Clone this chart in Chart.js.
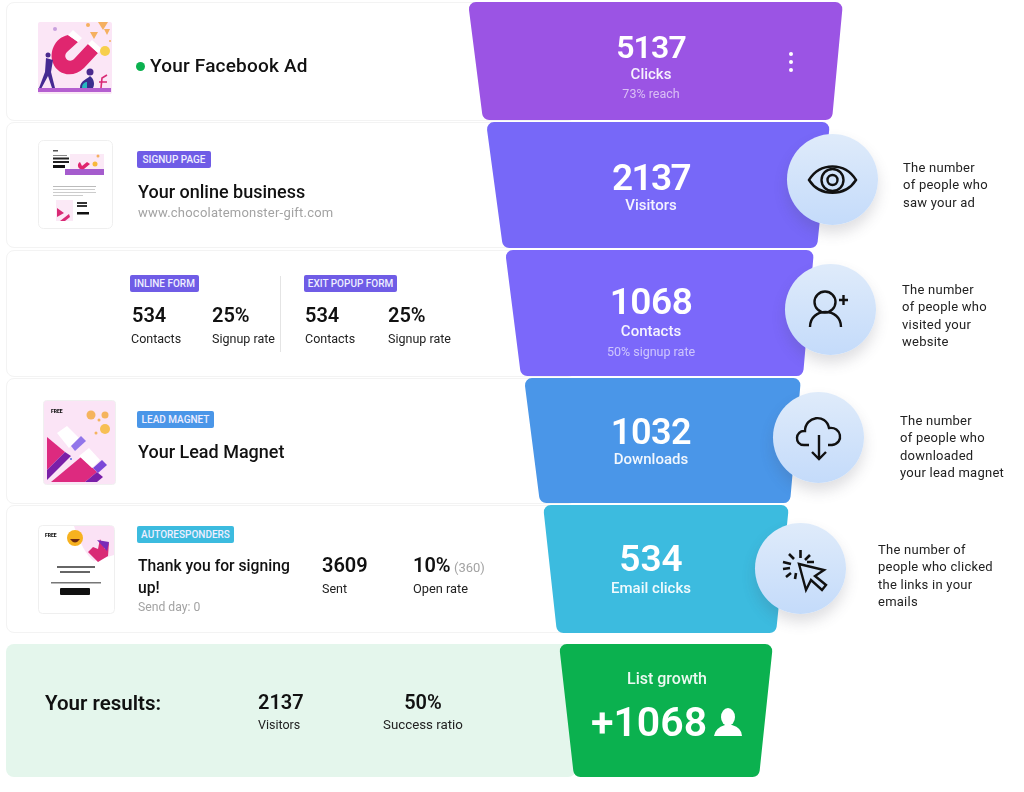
<!DOCTYPE html>
<html>
<head>
<meta charset="utf-8">
<title>Funnel</title>
<script src="https://cdn.jsdelivr.net/npm/chart.js@4"></script>
<style>
    html, body { margin: 0; padding: 0; background: #fff; }
    body { width: 1024px; height: 792px; position: relative; overflow: hidden; font-family: Roboto, sans-serif; color: #111; }
    canvas { position: absolute; left: 0; top: 0; z-index: 1; }
    .card { position: absolute; left: 6px; width: 570px; background: #fff; border: 1px solid #f3f3f3; border-radius: 8px; box-sizing: border-box; }
    .results { background: #e4f6ec; border: 0; }
    .t { position: absolute; transform: translateY(-50%); white-space: nowrap; z-index: 3; }
    .title { font-size: 18px; font-weight: 500; color: #111; }
    .num { font-size: 20px; font-weight: 600; color: #111; }
    .lab { font-size: 12.5px; color: #222; }
    .grey { font-size: 12.5px; color: #a3a3a3; }
    .hint { font-size: 13px; color: #222; letter-spacing: 0.25px; }
    .badge { position: absolute; height: 17px; line-height: 17px; border-radius: 2px; color: #eef; font-size: 10px; font-weight: 500; text-align: center; z-index: 3; }
    .circle { position: absolute; width: 91px; height: 91px; border-radius: 50%; background: linear-gradient(#dfebfa, #c4dbfa); box-shadow: 0 8px 14px rgba(70, 70, 90, 0.18); z-index: 2; }
    .circle svg { position: absolute; left: 0; top: 0; }
    .thumb { position: absolute; z-index: 3; }
</style>
</head>
<body>

<!-- thumbnails -->
<svg class="thumb" style="left:38px;top:22px" width="74" height="72" viewBox="0 0 74 72">
    <rect width="74" height="72" rx="2" fill="#fbe6f6"/>
    <path d="M30 13 C16 16 11 31 15 41 C20 54 36 56 46 46 L60 31 L50 22 L36 37 C31 42 24 35 29 30 L40 20 Z" fill="#e0266f"/>
    <path d="M30 13 L40 20 L44 16 L35 8 Z M50 22 L60 31 L64 27 L54 18 Z" fill="#fff"/>
    <circle cx="10" cy="33" r="2.5" fill="#4b2a8e"/>
    <path d="M8 36 L15 38 L13 50 L17 66 L14 66 L10 54 L3 67 L1 66 L7 50 Z" fill="#452a92"/>
    <circle cx="52" cy="50" r="3.5" fill="#4b2a8e"/>
    <path d="M42 66 C42 58 50 57 52 54 C56 57 57 62 55 66 Z" fill="#3a2d8e"/>
    <path d="M44 66 C44 60 49 60 49 60 L49 66 Z" fill="#25b8c0"/>
    <path d="M63 66 L64 56 L69 53 M61 60 L69 60" stroke="#d92a75" stroke-width="1.6" fill="none"/>
    <rect x="0" y="66" width="73" height="4" fill="#b45fd0"/>
    <circle cx="67" cy="29" r="5" fill="#f7cf4d"/>
    <path d="M60 0 L70 0 L65 8 Z M52 10 L60 10 L56 17 Z M66 7 L72 7 L69 13 Z" fill="#f5b060"/>
    <circle cx="50" cy="3" r="2" fill="#f5b060"/><circle cx="72" cy="19" r="1" fill="#f5b060"/>
    <circle cx="17" cy="7" r="2" fill="#c7a0dd"/>
</svg>
<svg class="thumb" style="left:38px;top:140px" width="75" height="89" viewBox="0 0 75 89">
    <rect x="0.5" y="0.5" width="74" height="88" rx="5" fill="#fff" stroke="#efefef"/>
    <rect x="15" y="10" width="5" height="1.5" fill="#555"/>
    <rect x="15" y="15" width="14" height="1" fill="#888"/>
    <rect x="15" y="17.5" width="16" height="2" fill="#222"/><rect x="15" y="21" width="16" height="2" fill="#222"/>
    <rect x="15" y="25" width="12" height="3" fill="#111"/>
    <rect x="32" y="14" width="34" height="20" fill="#fbe9f6"/>
    <rect x="27" y="29" width="39" height="6" fill="#a55ccd"/>
    <path d="M42 22 C38 24 40 31 46 29 L52 24 L49 22 L44 26 Z" fill="#e0266f"/>
    <circle cx="57" cy="24" r="2.5" fill="#f7b93c"/><circle cx="60" cy="16" r="1.5" fill="#f5b060"/>
    <rect x="15" y="46" width="43" height="1" fill="#bbb"/><rect x="15" y="49" width="42" height="1" fill="#ccc"/><rect x="15" y="52" width="43" height="1" fill="#ccc"/><rect x="15" y="55" width="30" height="1" fill="#ccc"/>
    <rect x="18" y="60" width="17" height="21" fill="#fbe9f6"/>
    <path d="M19 68 L26 73 L19 77 Z M22 81 L31 74 L32 77 L27 81 Z" fill="#d92a75"/>
    <rect x="39" y="62" width="10" height="2" fill="#333"/><rect x="39" y="65" width="10" height="2" fill="#333"/>
    <rect x="39" y="72" width="12" height="2.5" fill="#111"/>
</svg>
<svg class="thumb" style="left:43px;top:400px" width="73" height="85" viewBox="0 0 73 85">
    <rect x="0.5" y="0.5" width="72" height="84" rx="3" fill="#fbe4f6" stroke="#f0f0f0"/>
    <text x="8" y="13" font-family="Roboto" font-size="5" font-weight="900" fill="#111">FREE</text>
    <circle cx="48" cy="15" r="4.5" fill="#f5b45e"/><circle cx="56" cy="20" r="1.5" fill="#f5b45e"/><circle cx="62" cy="15" r="3.5" fill="#f5b45e"/>
    <circle cx="62" cy="29" r="5" fill="#f7bf55"/><circle cx="53" cy="33" r="1.5" fill="#f5b45e"/>
    <path d="M4 37 L22 52 L4 70 Z" fill="#dd2a7f"/>
    <path d="M4 70 L22 52 L28 56 L4 80 Z" fill="#7a1fa8"/>
    <path d="M14 33 L24 26 L36 38 L26 48 Z" fill="#fff"/>
    <path d="M28 46 L38 36 L43 41 L32 51 Z" fill="#9276ea"/>
    <path d="M8 82 L38 57 L54 72 L42 82 Z" fill="#dd2a7f"/>
    <path d="M42 82 L54 72 L60 77 L54 82 Z" fill="#7a1fa8"/>
    <path d="M36 56 L46 48 L57 60 L49 68 Z" fill="#fff"/>
    <path d="M50 68 L59 60 L64 65 L55 73 Z" fill="#7b48d8"/>
    <circle cx="28" cy="59" r="1" fill="#5b6be0"/>
</svg>
<svg class="thumb" style="left:38px;top:525px" width="77" height="89" viewBox="0 0 77 89">
    <rect x="0.5" y="0.5" width="76" height="88" rx="4" fill="#fff" stroke="#efefef"/>
    <path d="M36 1 L73 1 Q76 1 76 4 L76 30 L56 36 C48 30 42 18 36 1 Z" fill="#fbe2f5"/>
    <circle cx="37" cy="13" r="8" fill="#f7b21f"/>
    <path d="M32 14 Q37 21 42 14 Z" fill="#6d2a12"/>
    <text x="7" y="12" font-family="Roboto" font-size="5" font-weight="900" fill="#111">FREE</text>
    <path d="M50 27 L60 37 L70 31 L71 17 L67 24 L62 14 L60 24 L55 22 Z" fill="#d92a75"/>
    <path d="M59 15 L69 26 L71 17 Z" fill="#7a2bb8"/>
    <rect x="19" y="41" width="38" height="2" fill="#666"/><rect x="22" y="46" width="30" height="2" fill="#666"/>
    <rect x="13" y="57" width="50" height="1.5" fill="#777"/>
    <rect x="22" y="63" width="30" height="7" rx="1" fill="#111"/>
</svg>

<!-- icons -->
<div class="circle" style="left:787px;top:134px">
    <svg width="91" height="91" viewBox="0 0 91 91" fill="none" stroke="#111" stroke-width="2.4">
        <path d="M22 46 C33 28 58 28 69 46 C58 63 33 63 22 46 Z"/><circle cx="45.5" cy="46" r="11"/><circle cx="45.5" cy="46" r="5"/>
    </svg>
</div>
<div class="circle" style="left:785px;top:264px">
    <svg width="91" height="91" viewBox="0 0 91 91" fill="none" stroke="#111" stroke-width="2.4">
        <circle cx="40" cy="38" r="10.5"/><path d="M25 63 C25 43 56 43 56 63"/><path d="M54 36 H63 M58.5 31 V41"/>
    </svg>
</div>
<div class="circle" style="left:773px;top:392px">
    <svg width="91" height="91" viewBox="0 0 91 91" fill="none" stroke="#111" stroke-width="2.4">
        <path d="M36 53 H31 C21 53 22 38 32 39 C32 24 53 21 56 36 C68 34 72 51 59 53 H55"/><path d="M46 43 V67 M39 60 L46 67 L53 60"/>
    </svg>
</div>
<div class="circle" style="left:755px;top:523px">
    <svg width="91" height="91" viewBox="0 0 91 91" fill="none" stroke="#111">
        <path stroke-width="2.4" d="M44 41 L51 67 L56 57 L67 67 L71 62 L60 53 L69 47 Z"/>
        <path stroke-width="2.6" d="M28 39 L36 41 M28 46 L35 45 M31 54 L36 50 M40 56 L41 50 M34 31 L39 36 M45.5 27 L45.5 35 M55 32 L50 37 M52 39 L59 39"/>
    </svg>
</div>

<script>
// funnel rows, top to bottom
const funnelValues = ['5137', '2137', '1068', '1032', '534', '+1068'];
const funnelLabels = ['Clicks', 'Visitors', 'Contacts', 'Downloads', 'Email clicks', 'List growth'];
const funnelNotes = ['73% reach', '', '50% signup rate', '', '', ''];
const funnelColors = ['#9b54e4', '#7768f8', '#7b68fa', '#4a96e8', '#3cbbdf', '#0bb14f'];

// shape of each funnel step
const stepTop = [2, 122, 250, 378, 505, 644];
const stepBottom = [120, 248, 376, 503, 633, 777];
const topLeft = [468, 486, 505, 524, 543, 559];
const topRight = [843, 830, 814, 801, 789, 773];
const bottomLeft = [483, 503, 521, 540, 557, 574];
const bottomRight = [832, 817, 803, 790, 776, 759];

// left hand cards
const cardTop = [2, 122, 250, 378, 505];
const cardBottom = [121, 248, 377, 504, 633];

const formNames = ['INLINE FORM', 'EXIT POPUP FORM'];
const formContacts = ['534', '534'];
const formRates = ['25%', '25%'];
const emailStats = ['3609', '10%', '(360)'];
const resultStats = ['2137', '50%'];

const hints = [
    ['The number', 'of people who', 'saw your ad'],
    ['The number', 'of people who', 'visited your', 'website'],
    ['The number', 'of people who', 'downloaded', 'your lead magnet'],
    ['The number of', 'people who clicked', 'the links in your', 'emails']
];

function put(text, x, y, cls, extra) {
    var el = document.createElement('div');
    el.className = 't ' + cls;
    el.textContent = text;
    el.style.left = x + 'px';
    el.style.top = y + 'px';
    if (extra) { el.style.cssText += extra; }
    document.body.appendChild(el);
}

function badge(text, x, y, w, color) {
    var el = document.createElement('div');
    el.className = 'badge';
    el.textContent = text;
    el.style.cssText = 'left:' + x + 'px;top:' + y + 'px;width:' + w + 'px;background:' + color;
    document.body.appendChild(el);
}

function card(top, bottom, cls) {
    var el = document.createElement('div');
    el.className = 'card ' + cls;
    el.style.top = top + 'px';
    el.style.height = (bottom - top) + 'px';
    document.body.appendChild(el);
}

cardTop.forEach(function (t, i) { card(t, cardBottom[i], ''); });
card(644, 777, 'results');

/* row 1 */
put('Your Facebook Ad', 150, 65, 'title', 'font-size:19px;letter-spacing:0.2px');
var dot = document.createElement('div');
dot.style.cssText = 'position:absolute;left:136px;top:62px;width:9px;height:9px;border-radius:50%;background:#0bb14f;z-index:3';
document.body.appendChild(dot);

/* row 2 */
badge('SIGNUP PAGE', 137, 151, 74, '#6f5ce6');
put('Your online business', 138, 191, 'title');
put('www.chocolatemonster-gift.com', 138, 212, 'grey', 'font-size:13px;letter-spacing:0.22px');

/* row 3 */
badge(formNames[0], 130, 275, 69, '#6f5ce6');
badge(formNames[1], 304, 275, 93, '#6f5ce6');
put(formContacts[0], 132, 315, 'num');
put('Contacts', 131, 338, 'lab');
put(formRates[0], 212, 315, 'num');
put('Signup rate', 212, 338, 'lab');
put(formContacts[1], 305, 315, 'num');
put('Contacts', 305, 338, 'lab');
put(formRates[1], 388, 315, 'num');
put('Signup rate', 388, 338, 'lab');
var divider = document.createElement('div');
divider.style.cssText = 'position:absolute;left:280px;top:276px;width:1px;height:76px;background:#e4e4e4;z-index:3';
document.body.appendChild(divider);

/* row 4 */
badge('LEAD MAGNET', 137, 411, 77, '#4a96e8');
put('Your Lead Magnet', 138, 451, 'title');

/* row 5 */
badge('AUTORESPONDERS', 137, 526, 97, '#3cbbdf');
put('Thank you for signing', 138, 565, 'title', 'font-size:15.7px');
put('up!', 138, 587, 'title', 'font-size:15.7px');
put('Send day: 0', 138, 607, 'grey', 'font-size:12.2px');
put(emailStats[0], 322, 565, 'num');
put('Sent', 322, 588, 'lab');
put(emailStats[1], 413, 565, 'num');
put(emailStats[2], 454, 567, 'grey', 'font-size:13px');
put('Open rate', 413, 588, 'lab', 'font-size:12.8px');

/* results */
put('Your results:', 45, 703, 'title', 'font-size:20.5px;font-weight:600');
put(resultStats[0], 258, 702, 'num');
put('Visitors', 258, 724, 'lab');
put(resultStats[1], 423, 702, 'num', 'transform:translate(-50%,-50%)');
put('Success ratio', 423, 724, 'lab', 'font-size:13.3px;transform:translate(-50%,-50%)');

/* hints on the right */
const hintX = [903, 902, 900, 878];
const hintY = [167, 289, 420, 549];
hints.forEach(function (lines, i) {
    lines.forEach(function (line, j) {
        put(line, hintX[i], hintY[i] + j * 17.4, 'hint');
    });
});

/* trapezoid with rounded corners */
function roundedPoly(ctx, pts, r) {
    var last = pts[pts.length - 1], first = pts[0];
    ctx.beginPath();
    ctx.moveTo((last[0] + first[0]) / 2, (last[1] + first[1]) / 2);
    pts.forEach(function (p, i) {
        var next = pts[(i + 1) % pts.length];
        ctx.arcTo(p[0], p[1], next[0], next[1], r);
    });
    ctx.closePath();
}

const valueSize = [32, 37, 37, 36, 37, 41];
const valueSpacing = ['-0.9px', '-1.6px', '-0.5px', '-0.5px', '0px', '0px'];
const labelSize = [15, 15, 15, 15, 15, 16];
const valueY = [50, 181, 305, 435, 562, 726];
const labelY = [75, 206, 332, 460, 589, 680];
const noteY = [95, 0, 353, 0, 0, 0];

const funnelShape = {
    id: 'funnelShape',
    beforeDatasetDraw: function (chart, args) {
        var ctx = chart.ctx;
        var sx = chart.scales.x, sy = chart.scales.y;
        chart.getDatasetMeta(args.index).data.forEach(function (bar, i) {
            var yTop = sy.getPixelForValue(stepTop[i]);
            var yBottom = sy.getPixelForValue(stepBottom[i]);
            ctx.save();
            ctx.fillStyle = funnelColors[i];
            roundedPoly(ctx, [
                [bar.base, yTop],
                [bar.x, yTop],
                [sx.getPixelForValue(bottomRight[i]), yBottom],
                [sx.getPixelForValue(bottomLeft[i]), yBottom]
            ], 7);
            ctx.fill();
            ctx.restore();
        });
        return false;
    },
    afterDatasetsDraw: function (chart) {
        var ctx = chart.ctx;
        ctx.save();
        ctx.textAlign = 'center';
        ctx.textBaseline = 'middle';
        ctx.fillStyle = '#fff';
        funnelValues.forEach(function (v, i) {
            ctx.font = '600 ' + valueSize[i] + 'px Roboto';
            ctx.letterSpacing = valueSpacing[i];
            ctx.fillText(v, i === 5 ? 649 : 651, valueY[i]);
            ctx.letterSpacing = '0px';
            ctx.font = '500 ' + labelSize[i] + 'px Roboto';
            ctx.fillStyle = 'rgba(255,255,255,0.92)';
            ctx.fillText(funnelLabels[i], i === 5 ? 667 : 651, labelY[i]);
            if (funnelNotes[i]) {
                ctx.font = '400 12.5px Roboto';
                ctx.fillStyle = 'rgba(255,255,255,0.62)';
                ctx.fillText(funnelNotes[i], 651, noteY[i]);
            }
            ctx.fillStyle = '#fff';
        });
        /* menu dots on the first step */
        [54, 62, 70].forEach(function (y) {
            ctx.beginPath();
            ctx.arc(791, y, 2, 0, Math.PI * 2);
            ctx.fill();
        });
        /* person after +1068 */
        ctx.beginPath();
        ctx.ellipse(728, 717, 7, 9, 0, 0, Math.PI * 2);
        ctx.fill();
        ctx.beginPath();
        ctx.moveTo(714, 736);
        ctx.quadraticCurveTo(715, 728, 725, 725);
        ctx.lineTo(732, 725);
        ctx.quadraticCurveTo(742, 728, 742, 736);
        ctx.closePath();
        ctx.fill();
        ctx.restore();
    }
};

const canvas = document.createElement('canvas');
canvas.id = 'funnel';
canvas.width = 1024;
canvas.height = 792;
document.body.appendChild(canvas);

new Chart(canvas.getContext('2d'), {
    type: 'bar',
    data: {
        labels: funnelLabels,
        datasets: [{
            label: 'Funnel',
            data: topLeft.map(function (l, i) {
                return { x: [l, topRight[i]], y: (stepTop[i] + stepBottom[i]) / 2 };
            }),
            backgroundColor: funnelColors
        }]
    },
    options: {
        indexAxis: 'y',
        responsive: false,
        animation: false,
        layout: { padding: 0 },
        plugins: { legend: { display: false }, tooltip: { enabled: false } },
        scales: {
            x: { type: 'linear', min: 0, max: 1024, display: false },
            y: { type: 'linear', min: 0, max: 792, reverse: true, offset: false, display: false }
        }
    },
    plugins: [funnelShape]
});
</script>
</body>
</html>
